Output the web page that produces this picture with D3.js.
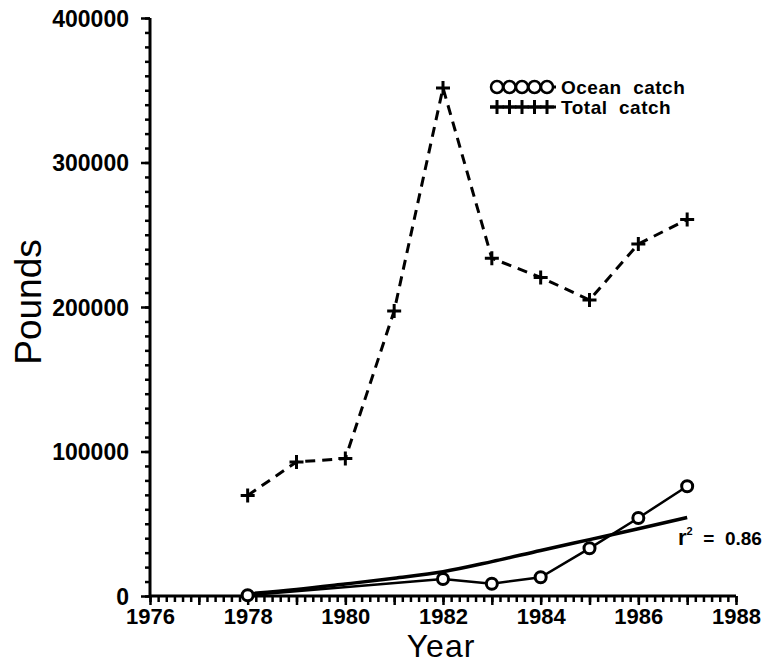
<!DOCTYPE html>
<html>
<head>
<meta charset="utf-8">
<script src="https://cdn.jsdelivr.net/npm/d3@7"></script>
<style>
	body { margin: 0; background: #fff; }
	svg { display: block; }
	.tick text { font-family: "Liberation Sans", Arial, sans-serif; font-weight: bold; font-size: 23px; fill: #000; }
	.xaxis .tick text { font-size: 22px; }
</style>
</head>
<body>
<svg id="chart" width="780" height="664"></svg>
<script>
// values
const years = [1978, 1979, 1980, 1981, 1982, 1983, 1984, 1985, 1986, 1987];
const totalCatch = [69600, 92800, 95100, 197300, 351600, 233700, 220500, 204900, 243600, 260500];
const oceanYears = [1978, 1982, 1983, 1984, 1985, 1986, 1987];
const oceanCatch = [500, 11800, 8500, 13000, 33000, 54000, 76000];
const fitCatch = [1500, 4500, 8300, 12300, 16800, 23800, 31500, 39000, 46500, 54300];

const xTickLabels = [1976, 1978, 1980, 1982, 1984, 1986, 1988];
const yTickLabels = [0, 100000, 200000, 300000, 400000];
const legendLabels = ["Ocean  catch", "Total  catch"];

const svg = d3.select("#chart");

const x = d3.scaleLinear().domain([1976, 1988]).range([150, 736]);
const y = d3.scaleLinear().domain([0, 400000]).range([596, 18]);

// minor ticks
svg.append("g")
	.attr("transform", "translate(150,0)")
	.call(d3.axisLeft(y).tickValues(d3.range(0, 400001, 10000)).tickSize(5).tickSizeOuter(0).tickFormat(""))
	.call(g => g.select(".domain").remove())
	.selectAll("line").attr("stroke-width", 2.5);

svg.append("g")
	.attr("transform", "translate(0,596)")
	.call(d3.axisBottom(x).tickValues(d3.range(0, 73).map(i => 1976 + i / 6)).tickSize(6).tickSizeOuter(0).tickFormat(""))
	.call(g => g.select(".domain").remove())
	.selectAll("line").attr("stroke-width", 2.5);

// major ticks + labels
svg.append("g")
	.attr("transform", "translate(150,0)")
	.call(d3.axisLeft(y).tickValues(yTickLabels).tickSize(9).tickSizeOuter(0).tickPadding(12).tickFormat(d3.format("d")))
	.call(g => g.select(".domain").remove())
	.call(g => g.selectAll("text").attr("dy", "0.36em"))
	.selectAll("line").attr("stroke-width", 2.5);

svg.append("g")
	.attr("class", "xaxis")
	.attr("transform", "translate(0,596)")
	.call(d3.axisBottom(x).tickValues(d3.range(1976, 1989)).tickSize(9).tickSizeOuter(0).tickFormat(d => xTickLabels.includes(d) ? d : "").tickPadding(3))
	.call(g => g.select(".domain").remove())
	.selectAll("line").attr("stroke-width", 2.5);

// axis lines
svg.append("line").attr("x1", 150).attr("x2", 150).attr("y1", y(400000)).attr("y2", y(0))
	.attr("stroke", "#000").attr("stroke-width", 3);
svg.append("line").attr("x1", x(1976)).attr("x2", x(1988)).attr("y1", y(0)).attr("y2", y(0))
	.attr("stroke", "#000").attr("stroke-width", 3);

// axis titles
svg.append("text")
	.attr("transform", "translate(41,302) rotate(-90)")
	.attr("text-anchor", "middle")
	.style("font-family", "Liberation Sans, Arial, sans-serif")
	.style("font-size", "37px")
	.text("Pounds");

svg.append("text")
	.attr("x", 441).attr("y", 657)
	.attr("text-anchor", "middle")
	.style("font-family", "Liberation Sans, Arial, sans-serif")
	.style("font-size", "32px")
	.style("letter-spacing", "1px")
	.text("Year");

const line = d3.line().x(d => x(d[0])).y(d => y(d[1]));

// total catch, dashed
const totalPts = years.map((yr, i) => [yr, totalCatch[i]]);
svg.append("path")
	.attr("d", line(totalPts))
	.attr("fill", "none").attr("stroke", "#000")
	.attr("stroke-width", 3).attr("stroke-dasharray", "10,7");

function cross(g, cx, cy) {
	g.append("path")
		.attr("d", `M${cx - 7},${cy}H${cx + 7}M${cx},${cy - 7}V${cy + 7}`)
		.attr("stroke", "#000").attr("stroke-width", 3);
}
totalPts.forEach(d => cross(svg, x(d[0]), y(d[1])));

// fitted curve
const fitPts = years.map((yr, i) => [yr, fitCatch[i]]);
svg.append("path")
	.attr("d", line.curve(d3.curveMonotoneX)(fitPts))
	.attr("fill", "none").attr("stroke", "#000").attr("stroke-width", 3.5);
line.curve(d3.curveLinear);

// ocean catch
const oceanPts = oceanYears.map((yr, i) => [yr, oceanCatch[i]]);
svg.append("path")
	.attr("d", line(oceanPts))
	.attr("fill", "none").attr("stroke", "#000").attr("stroke-width", 2.5);

svg.selectAll(".ocean")
	.data(oceanPts)
	.enter().append("circle")
	.attr("class", "ocean")
	.attr("cx", d => x(d[0])).attr("cy", d => y(d[1]))
	.attr("r", 5.5)
	.attr("fill", "#fff").attr("stroke", "#000").attr("stroke-width", 3);

// r^2 label
const rl = svg.append("text")
	.attr("x", 678).attr("y", 545)
	.attr("xml:space", "preserve")
	.style("font-family", "Liberation Sans, Arial, sans-serif")
	.style("font-weight", "bold").style("font-size", "19px")
	.style("white-space", "pre");
rl.append("tspan").style("font-size", "22px").text("r");
rl.append("tspan").attr("dy", -10).style("font-size", "11px").text("2");
rl.append("tspan").attr("dy", 10).text("  =  0.86");

// legend
const legend = svg.append("g");
[0, 1].forEach(i => {
	const ly = 87 + i * 20;
	legend.append("line").attr("x1", 490).attr("x2", 556).attr("y1", ly).attr("y2", ly)
		.attr("stroke", "#000").attr("stroke-width", 3);
	for (let k = 0; k < 5; k++) {
		const cx = 497 + k * 12.5;
		if (i === 0) {
			legend.append("circle").attr("cx", cx).attr("cy", ly).attr("r", 6)
				.attr("fill", "#fff").attr("stroke", "#000").attr("stroke-width", 2.5);
		} else {
			cross(legend, cx, ly);
		}
	}
	legend.append("text")
		.attr("x", 561).attr("y", ly + 7)
		.style("font-family", "Liberation Sans, Arial, sans-serif")
		.style("font-weight", "bold").style("font-size", "19px")
		.style("letter-spacing", "0.5px")
		.style("white-space", "pre")
		.text(legendLabels[i]);
});
</script>
</body>
</html>
